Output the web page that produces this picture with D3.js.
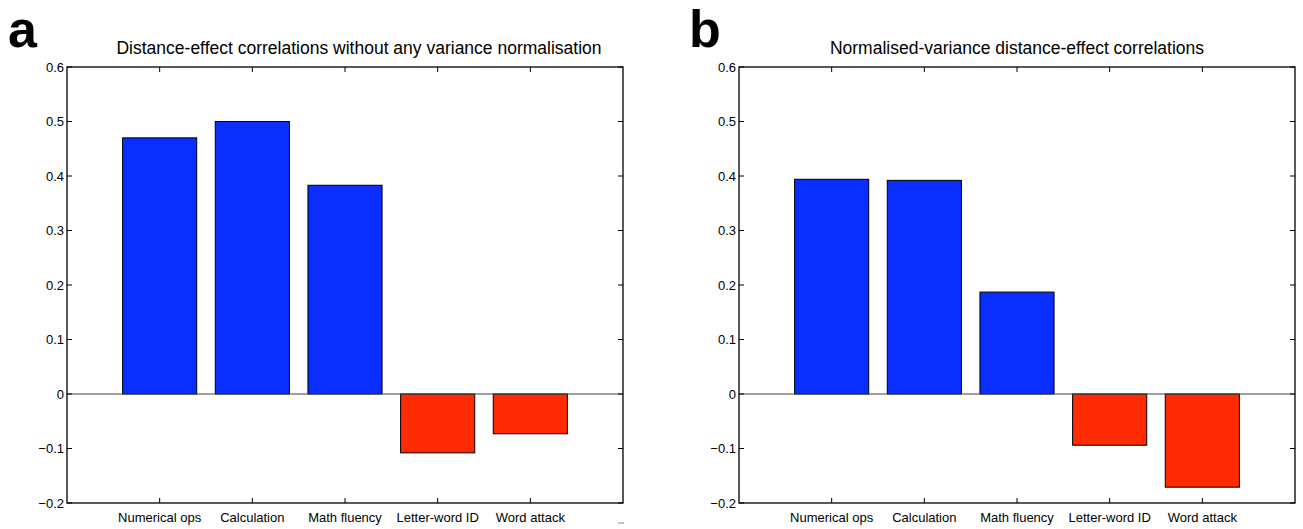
<!DOCTYPE html>
<html>
<head>
<meta charset="utf-8">
<script src="https://cdn.jsdelivr.net/npm/d3@7"></script>
<style>
  body { margin: 0; background: #fff; }
  svg text { font-family: "Liberation Sans", Arial, sans-serif; fill: #000; }
</style>
</head>
<body>
<div id="chart"></div>
<script>
// categories and values
var categories = ["Numerical ops", "Calculation", "Math fluency", "Letter-word ID", "Word attack"];
var rawValues = [0.47, 0.50, 0.383, -0.108, -0.073];
var normValues = [0.394, 0.392, 0.187, -0.094, -0.171];
var yTicks = [-0.2, -0.1, 0, 0.1, 0.2, 0.3, 0.4, 0.5, 0.6];
var panelLetters = ["a", "b"];
var panelTitles = ["Distance-effect correlations without any variance normalisation",
                   "Normalised-variance distance-effect correlations"];

var W = 1303, H = 529;
var svg = d3.select("#chart").append("svg")
  .attr("width", W).attr("height", H);

var blue = "#0a2eff", red = "#ff2a00";

function drawPanel(left, values, letter, title, letterX, letterY, titleShift) {
  var w = 556, top = 67, bottom = 503;

  var x = d3.scaleLinear().domain([0, 6]).range([left, left + w]);
  var y = d3.scaleLinear().domain([-0.2, 0.6]).range([bottom, top]);
  var g = svg.append("g");

  // bars
  var bw = (x(1) - x(0)) * 0.8;
  g.selectAll("rect.bar").data(values).enter().append("rect")
    .attr("class", "bar")
    .attr("x", function(d, i) { return x(i + 1) - bw / 2; })
    .attr("y", function(d) { return y(Math.max(0, d)); })
    .attr("width", bw)
    .attr("height", function(d) { return Math.abs(y(d) - y(0)); })
    .attr("fill", function(d) { return d >= 0 ? blue : red; })
    .attr("stroke", "#000")
    .attr("stroke-width", 1);

  // zero line
  g.append("line")
    .attr("x1", x(0)).attr("x2", x(6))
    .attr("y1", y(0)).attr("y2", y(0))
    .attr("stroke", "#444").attr("stroke-width", 1.2);

  // box
  g.append("rect")
    .attr("x", x(0)).attr("y", y(0.6))
    .attr("width", x(6) - x(0)).attr("height", y(-0.2) - y(0.6))
    .attr("fill", "none").attr("stroke", "#000").attr("stroke-width", 1.3);

  var tl = 5;
  // y ticks, both sides
  yTicks.forEach(function(t) {
    g.append("line").attr("x1", x(0)).attr("x2", x(0) + tl)
      .attr("y1", y(t)).attr("y2", y(t)).attr("stroke", "#000");
    g.append("line").attr("x1", x(6)).attr("x2", x(6) - tl)
      .attr("y1", y(t)).attr("y2", y(t)).attr("stroke", "#000");
    g.append("text")
      .attr("x", x(0) - 3).attr("y", y(t))
      .attr("dy", "0.35em")
      .attr("text-anchor", "end")
      .style("font-size", "13px")
      .text(t === 0 ? "0" : d3.format(".1f")(t));
  });

  // x ticks top & bottom
  categories.forEach(function(c, i) {
    g.append("line").attr("x1", x(i + 1)).attr("x2", x(i + 1))
      .attr("y1", y(-0.2)).attr("y2", y(-0.2) - tl).attr("stroke", "#000");
    g.append("line").attr("x1", x(i + 1)).attr("x2", x(i + 1))
      .attr("y1", y(0.6)).attr("y2", y(0.6) + tl).attr("stroke", "#000");
    g.append("text")
      .attr("x", x(i + 1)).attr("y", bottom + 19)
      .attr("text-anchor", "middle")
      .style("font-size", "13px")
      .text(c);
  });

  // title
  g.append("text")
    .attr("x", x(3) + titleShift).attr("y", 54)
    .attr("text-anchor", "middle")
    .style("font-size", "17.5px")
    .text(title);

  // panel letter
  g.append("text")
    .attr("x", letterX).attr("y", letterY)
    .style("font-size", "52px").style("font-weight", "bold")
    .text(letter);
}

drawPanel(67, rawValues, panelLetters[0], panelTitles[0], 8, 47, 14);
drawPanel(739, normValues, panelLetters[1], panelTitles[1], 689, 47, 0);

// little stray mark under panel a
svg.append("line").attr("x1", 618).attr("x2", 624)
  .attr("y1", 523).attr("y2", 523).attr("stroke", "#888");
</script>
</body>
</html>
